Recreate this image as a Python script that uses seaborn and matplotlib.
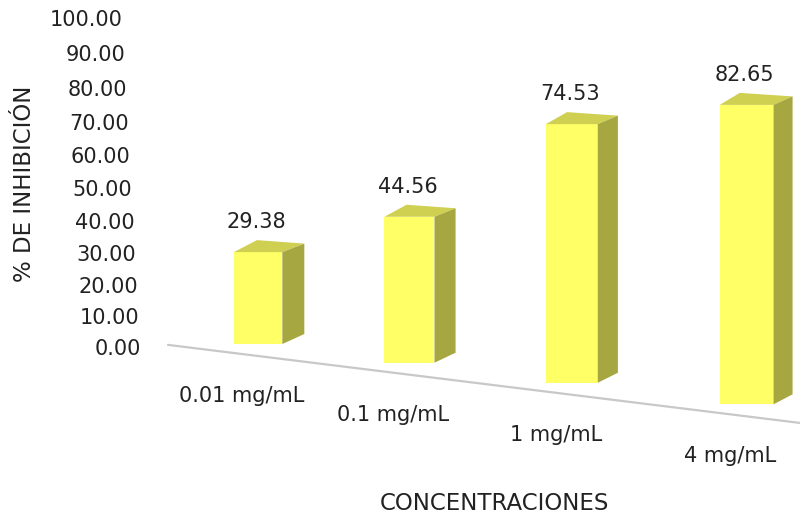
import numpy as np
import pandas as pd
import matplotlib
matplotlib.use("Agg")
import matplotlib.pyplot as plt
import matplotlib.transforms as mtransforms
from matplotlib.patches import Polygon
from matplotlib.lines import Line2D
import seaborn as sns

# ---- data -------------------------------------------------------------
concentraciones = ["0.01 mg/mL", "0.1 mg/mL", "1 mg/mL", "4 mg/mL"]
inhibicion = [29.38, 44.56, 74.53, 82.65]
y_ticks = [0, 10, 20, 30, 40, 50, 60, 70, 80, 90, 100]

# ---- style ------------------------------------------------------------
FRONT = "#FFFF66"
TOP = "#CFCF52"
SIDE = "#A7A742"
TEXT = "#222222"
FS = 15

sns.set_theme(style="white")
plt.rcParams["font.family"] = ["DejaVu Sans"]

W, H, DPI = 800, 519, 100
fig = plt.figure(figsize=(W / DPI, H / DPI), dpi=DPI)
fig.patch.set_facecolor("white")
IDENT = mtransforms.IdentityTransform()

# flat frame of the plot (pixels)
left, right, bottom, top = 145, 800, H - 346.7, H - 18.3
ax = fig.add_axes([left / W, bottom / H, (right - left) / W, (top - bottom) / H])

df = pd.DataFrame({"conc": concentraciones, "inh": inhibicion})
sns.barplot(data=df, x="conc", y="inh", color=FRONT, saturation=1,
            width=0.34, errorbar=None, linewidth=0, ax=ax)

# slightly compressed value axis toward the floor (3-D look)
beta = 0.00076
ax.set_yscale("function", functions=(
    lambda v: v + beta * np.asarray(v) ** 2,
    lambda y: (np.sqrt(np.maximum(1 + 4 * beta * np.asarray(y), 0)) - 1) / (2 * beta)))

slot, first = 138.2, 254.9
ax.set_xlim((left - first) / slot, (right - first) / slot)
ax.set_ylim(0, 100)

ax.set_yticks(y_ticks)
ax.set_yticklabels([f"{t:.2f}" for t in y_ticks])
ax.tick_params(axis="y", length=0, pad=15.8, labelsize=FS, labelcolor=TEXT)
ax.set_xticks([])
ax.set_xlabel("")
ax.set_ylabel("")
for s in ax.spines.values():
    s.set_visible(False)
ax.set_facecolor("none")

# tick labels lean to the right as they go down
lean = (mtransforms.Affine2D().translate(0, -top)
        .skew(np.arctan(-0.055), 0).translate(0, top))
for lab in ax.get_yticklabels():
    lab.set_transform(lab.get_transform() + lean)

# ---- perspective placement of the bars --------------------------------
C, X0 = 2.4e-4, 140


def place(cx):
    u = cx - X0
    w = 1 / (1 - C * u)
    xc = X0 + u * w
    base_from_top = 344 + 0.1235 * (xc - 258)
    return xc, base_from_top, w


for bar, val, name in zip(ax.containers[0], inhibicion, concentraciones):
    x0 = bar.get_x()
    x1 = x0 + bar.get_width()
    h = bar.get_height()
    (cxf, ybf), = ax.transData.transform([[x0 + bar.get_width() / 2, 0]])
    xc, base_top, w = place(cxf)
    base = H - base_top
    T = mtransforms.Affine2D().translate(-cxf, -ybf).scale(w, 0.975 * w).translate(xc, base)
    full = ax.transData + T
    bar.set_transform(full)
    bar.set_clip_on(False)

    fl_b, fr_b, fl_t, fr_t = full.transform([[x0, 0], [x1, 0], [x0, h], [x1, h]])
    dx = 22 - 0.006 * (xc - 258)
    top_face = [fl_t, fr_t, fr_t + (dx, 8.5), fl_t + (dx + 1, 12)]
    side_face = [fr_t, fr_b, fr_b + (dx, 10), fr_t + (dx, 8.5)]
    fig.add_artist(Polygon(top_face, closed=True, transform=IDENT,
                           facecolor=TOP, edgecolor="none", zorder=2))
    fig.add_artist(Polygon(side_face, closed=True, transform=IDENT,
                           facecolor=SIDE, edgecolor="none", zorder=2))

    top_y = (fl_t[1] + fr_t[1]) / 2
    fig.text(xc - 2, top_y + 30, f"{val:.2f}", transform=IDENT,
             ha="center", va="center", fontsize=FS, color=TEXT)
    fig.text(xc - 16, base - 52, name, transform=IDENT,
             ha="center", va="center", fontsize=FS, color=TEXT)

# front edge of the floor
fx = np.array([168.0, 800.0])
fy = H - (344 + 0.1235 * (fx - 258) + 12)
fig.add_artist(Line2D(fx, fy, transform=IDENT, color="#C8C8C8", lw=1.6, zorder=1))

fig.text(494 / W, 1 - 504 / H, "CONCENTRACIONES", ha="center", va="center",
         fontsize=16.5, color=TEXT)
fig.text(25 / W, 1 - 184 / H, "% DE INHIBICIÓN", rotation=90, ha="center",
         va="center", fontsize=16.5, color=TEXT)

fig.savefig("out.png", dpi=DPI, facecolor="white")
